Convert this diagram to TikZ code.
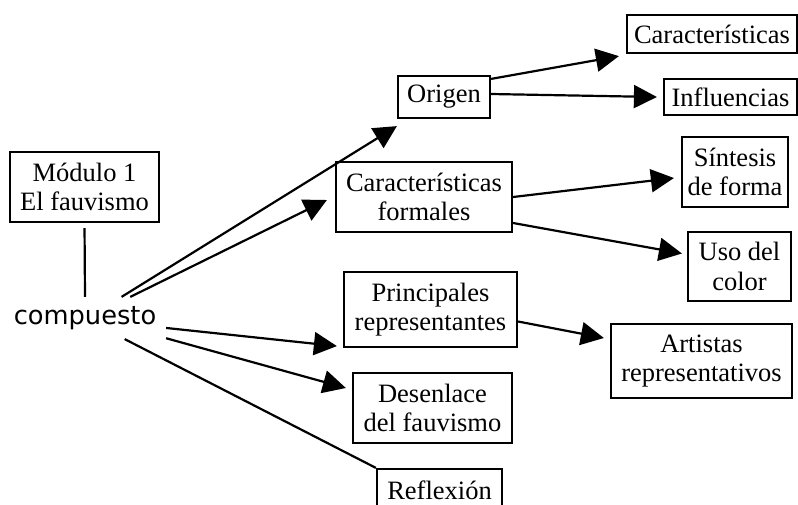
\documentclass[tikz,border=0pt]{standalone}
\usepackage{fontspec}
\setmainfont{Liberation Serif}
\newfontfamily\compfont{DejaVu Sans}
\usepackage{xcolor}
\usepackage{tikz}
\usetikzlibrary{arrows.meta}

\begin{document}
\begin{tikzpicture}[x=1pt,y=1pt,line width=2.2pt]
                \tikzstyle{every node}+=[inner sep=0pt, font=\fontsize{26.5}{29.5}\selectfont]
                \tikzstyle{box}=[draw=black, align=center]
                \tikzstyle{arr}=[black, -{Triangle[length=23pt,width=23pt]}]
                \useasboundingbox (0,0) rectangle (798,-504);
                \node [box, minimum width=149, minimum height=70] (modulo) at (84.5,-187) {Módulo 1\\El fauvismo};
                \node [minimum width=160, minimum height=40, font=\compfont\fontsize{25.7}{28}\selectfont] (comp) at (85,-318) {compuesto};
                \node [box, minimum width=92, minimum height=42] (origen) at (444,-97) {Origen};
                \node [box, minimum width=170, minimum height=38] (caract) at (712,-34) {Características};
                \node [box, minimum width=133, minimum height=36] (influ) at (730.5,-97) {Influencias};
                \node [box, minimum width=106, minimum height=70] (sint) at (735,-172) {Síntesis\\de forma};
                \node [box, minimum width=176, minimum height=70] (cform) at (424,-197) {Características\\formales};
                \node [box, minimum width=103, minimum height=69] (uso) at (739.5,-266.5) {Uso del\\color};
                \node [box, minimum width=173, minimum height=75] (princ) at (430.5,-309.5) {Principales\\representantes};
                \node [box, minimum width=181, minimum height=74] (art) at (701.5,-361) {Artistas\\representativos};
                \node [box, minimum width=159, minimum height=70] (desen) at (432.5,-408) {Desenlace\\del fauvismo};
                \node [box, minimum width=125, minimum height=42] (refl) at (439.5,-490) {Reflexión};
                \draw [black, shorten <=5pt] (modulo.south) -- (comp.north);
                \draw [arr] (comp.30) -- ([yshift=-7pt]origen.south west);
                \draw [arr] (comp.25) -- ([shift={(-8pt,-3pt)}]cform.west);
                \draw [arr] (comp.-7) -- ([shift={(-6pt,2pt)}]princ.south west);
                \draw [arr] (comp.-14) -- ([shift={(-6pt,20pt)}]desen.west);
                \draw [black] (comp.-28) -- (refl.north west);
                \draw [arr] ([yshift=-4pt]origen.north east) -- ([shift={(-7pt,-2pt)}]caract.south west);
                \draw [arr] ([yshift=3pt]origen.east) -- ([xshift=-6pt]influ.west);
                \draw [arr] (cform.east) -- ([shift={(-7pt,-6pt)}]sint.west);
                \draw [arr] ([yshift=-26pt]cform.east) -- ([shift={(-5pt,13pt)}]uso.west);
                \draw [arr] ([yshift=-12pt]princ.east) -- ([shift={(-6pt,23pt)}]art.west);
\end{tikzpicture}
\end{document}
